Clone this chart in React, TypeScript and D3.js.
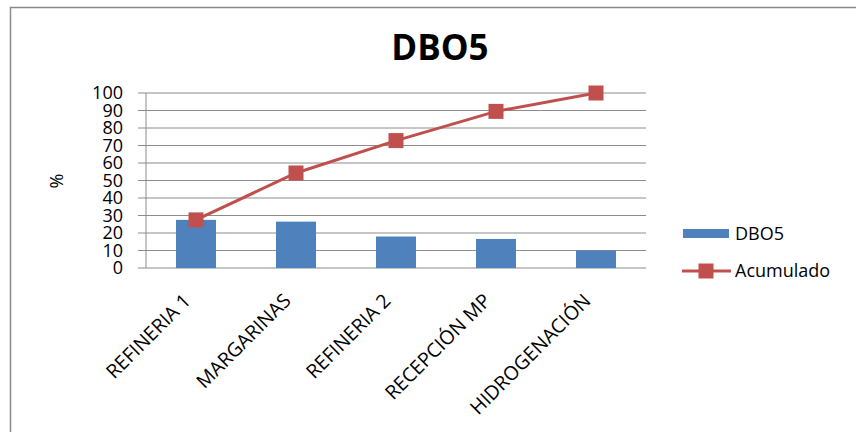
import * as d3 from 'd3'

const W = 856, H = 432
const M = { top: 93, left: 146, width: 500, height: 175 }

const CATEGORIES = ['REFINERIA 1', 'MARGARINAS', 'REFINERIA 2', 'RECEPCIÓN MP', 'HIDROGENACIÓN']
const DBO5 = [27.5, 26.5, 18, 16.6, 10]
const ACUMULADO = [27.5, 54.3, 72.8, 89.5, 100]
const Y_TICKS = [0, 10, 20, 30, 40, 50, 60, 70, 80, 90, 100]

const BLUE = '#4F81BD'
const RED = '#C0504D'
const FONT = 'Open Sans, Noto Sans, sans-serif'

export default function App() {
  const x = d3.scaleBand<string>().domain(CATEGORIES).range([M.left, M.left + M.width]).paddingInner(0.6).paddingOuter(0.3)
  const cx = (c: string) => (x(c) ?? 0) + x.bandwidth() / 2
  const y = d3.scaleLinear().domain([0, 100]).range([M.top + M.height, M.top])

  const line = d3.line<number>().x((_, i) => cx(CATEGORIES[i])).y(d => y(d))(ACUMULADO) ?? ''

  return (
    <svg width={W} height={H} style={{ position: 'absolute', left: 0, top: 0, background: '#fff' }}>
      <rect x={10.5} y={7.5} width={W} height={H} fill="#fff" stroke="#8a8a8a" strokeWidth={1.5} />

      <text x={440} y={60} textAnchor="middle" fontFamily={FONT} fontWeight={700} fontSize={35} fill="#000">DBO5</text>

      {/* gridlines + y ticks */}
      {Y_TICKS.map(t => (
        <g key={t}>
          <line x1={M.left - 8} x2={M.left + M.width} y1={y(t)} y2={y(t)} stroke="#8c8c8c" strokeWidth={1} />
          <text x={123} y={y(t)} dy="0.36em" textAnchor="end" fontFamily={FONT} fontSize={18} fill="#000">{t}</text>
        </g>
      ))}
      <line x1={M.left} x2={M.left} y1={M.top} y2={M.top + M.height} stroke="#8c8c8c" strokeWidth={1} />

      <text transform={`translate(63,181) rotate(-90)`} textAnchor="middle" fontFamily={FONT} fontSize={18} fill="#000">%</text>

      {/* bars */}
      {CATEGORIES.map((c, i) => (
        <rect key={c} x={x(c)} y={y(DBO5[i])} width={x.bandwidth()} height={y(0) - y(DBO5[i])} fill={BLUE} />
      ))}

      {/* cumulative */}
      <path d={line} fill="none" stroke={RED} strokeWidth={3} />
      {ACUMULADO.map((v, i) => (
        <rect key={i} x={cx(CATEGORIES[i]) - 7.5} y={y(v) - 7.5} width={15} height={15} fill={RED} />
      ))}

      {/* x labels */}
      {CATEGORIES.map(c => (
        <text key={c} transform={`translate(${cx(c) - 4},${y(0) + 34}) rotate(-45)`} textAnchor="end"
          fontFamily={FONT} fontSize={19.5} fill="#000">{c}</text>
      ))}

      {/* legend */}
      <rect x={683} y={229} width={46} height={9} fill={BLUE} />
      <text x={735} y={234} dy="0.36em" fontFamily={FONT} fontSize={18} fill="#000">DBO5</text>
      <line x1={682} x2={731} y1={271} y2={271} stroke={RED} strokeWidth={3} />
      <rect x={698.5} y={263.5} width={15} height={15} fill={RED} />
      <text x={735} y={271} dy="0.36em" fontFamily={FONT} fontSize={18} fill="#000">Acumulado</text>
    </svg>
  )
}
